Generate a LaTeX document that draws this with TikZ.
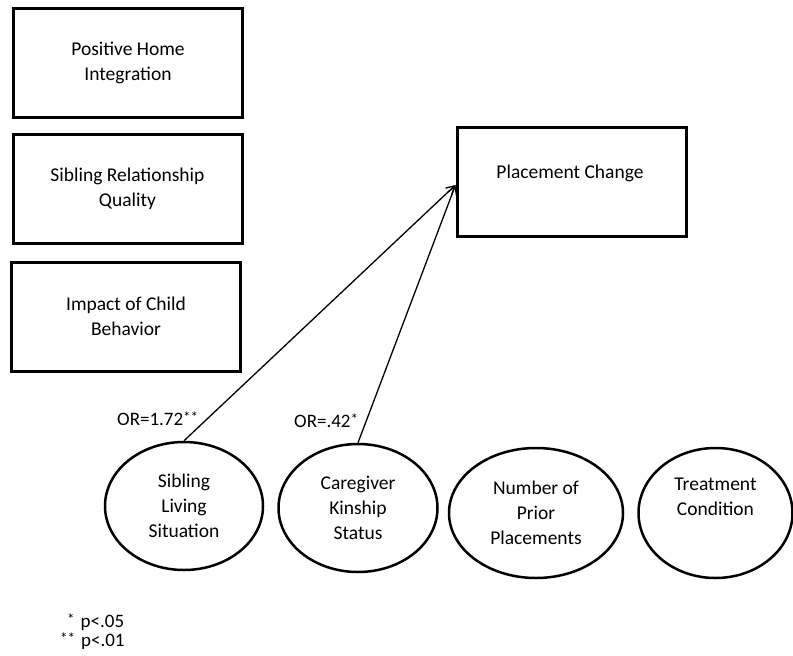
\documentclass[tikz,border=0pt]{standalone}
\usepackage{fontspec}
\setmainfont{Carlito}
\usetikzlibrary{shapes.geometric,arrows.meta}

\tikzset{
  lbl/.style={font=\fontsize{19.5}{25}\selectfont, align=center, inner sep=0pt},
  varbox/.style={draw, line width=3pt, rectangle, minimum width=229pt, minimum height=109pt, lbl},
  varoval/.style={draw, line width=2.5pt, ellipse, inner sep=0pt, lbl},
  path/.style={line width=1.3pt, -{Straight Barb[length=8pt,width=9pt,line width=1.3pt]}},
  note/.style={font=\fontsize{19}{19}\selectfont, inner sep=0pt},
}
\newcommand{\sig}[1]{\raisebox{0.3ex}{\fontsize{15}{15}\selectfont #1}}

\begin{document}
\begin{tikzpicture}[x=1pt, y=-1pt]
  \useasboundingbox (0,0) rectangle (793,656);

  % left column of covariate boxes
  \node[varbox] (home) at (128,63)  {Positive Home\\Integration};
  \node[varbox] (sib)  at (127.5,189) {Sibling Relationship\\Quality};
  \node[varbox] (beh)  at (126,316.5) {Impact of Child\\Behavior};

  % outcome
  \node[varbox] (pc) at (571.5,181.5) {};
  \node[lbl] (pctext) at (570,173) {Placement Change};
  \coordinate (tip) at ([yshift=-3.5pt]pc.west);

  % predictors
  \node[varoval, minimum width=158pt, minimum height=128pt] (sls) at (184,506) {Sibling\\Living\\Situation};
  \node[varoval, minimum width=159pt, minimum height=128pt] (cks) at (358,508) {Caregiver\\Kinship\\Status};
  \node[varoval, minimum width=174pt, minimum height=130pt] (npp) at (536,513) {Number of\\Prior\\Placements};
  \node[varoval, minimum width=154pt, minimum height=130pt] (tc)  at (715.5,513) {Treatment\\Condition\\\strut};

  % significant paths
  \draw[path] (sls.north) -- (tip);
  \draw[path] (cks.north) -- (tip);

  % odds ratios
  \node[note, anchor=west] (or1) at (117,419) {OR=1.72\sig{**}};
  \node[note, anchor=west] (or2) at (294,421) {OR=.42\sig{*}};

  % significance key
  \node[note, anchor=west] (k1) at (67,622) {\sig{*}\hspace{6pt}p<.05};
  \node[note, anchor=west] (k2) at (60,641) {\sig{**}\hspace{6pt}p<.01};
\end{tikzpicture}
\end{document}
